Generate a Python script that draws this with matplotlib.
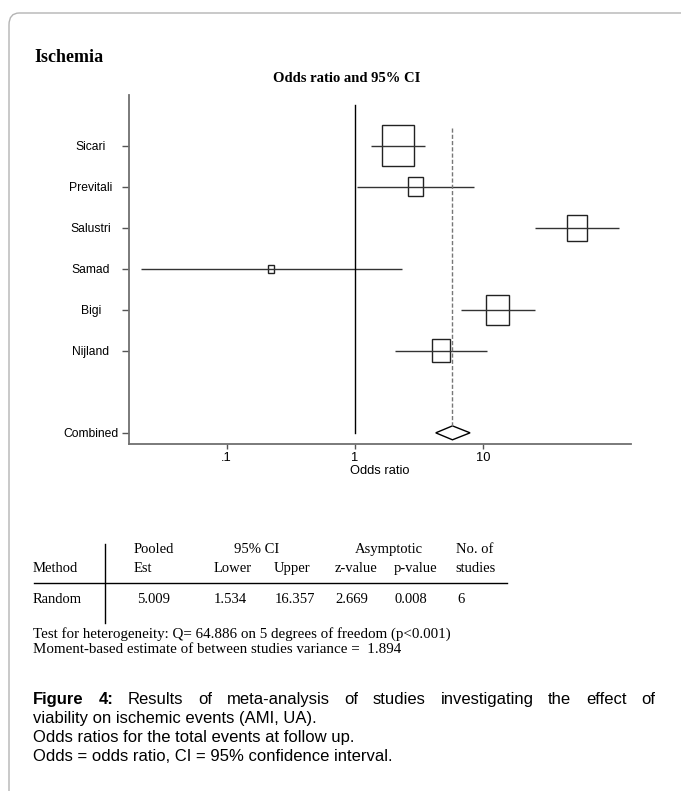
import numpy as np
from matplotlib import pyplot as plt
from matplotlib.patches import Rectangle, Polygon, FancyBboxPatch

plt.rcParams['font.family'] = ['Liberation Sans', 'DejaVu Sans']

studies = ["Sicari", "Previtali", "Salustri", "Samad", "Bigi", "Nijland"]
odds = [2.17, 2.97, 54.0, 0.222, 13.0, 4.72]
ci_low = [1.34, 1.04, 25.3, 0.0213, 6.76, 2.04]
ci_high = [3.55, 8.47, 115.0, 2.32, 25.4, 10.8]
weights = [1.0, 0.47, 0.63, 0.21, 0.73, 0.56]

combined_label = "Combined"
combined_or = 5.78
combined_low = 4.28
combined_high = 7.93

xticks = [0.1, 1, 10]
xticklabels = [".1", "1", "10"]

header1 = ["Pooled", "95% CI", "Asymptotic", "No. of"]
header2 = ["Method", "Est", "Lower", "Upper", "z-value", "p-value", "studies"]
row_random = ["Random", "5.009", "1.534", "16.357", "2.669", "0.008", "6"]
notes = ["Test for heterogeneity: Q= 64.886 on 5 degrees of freedom (p<0.001)",
         "Moment-based estimate of between studies variance =  1.894"]

W, H = 681, 791
fig = plt.figure(figsize=(W / 100, H / 100), dpi=100)


def fx(px):
    return px / W


def fy(py):
    return 1 - py / H


# page frame
frame = FancyBboxPatch((fx(9), fy(900)), fx(800), fy(13) - fy(900),
                       boxstyle="round,pad=0,rounding_size=0.015",
                       transform=fig.transFigure, facecolor="none",
                       edgecolor="#b4b4b4", lw=1, clip_on=False)
fig.patches.append(frame)

ax = fig.add_axes([fx(129), fy(443.5), fx(631) - fx(129), fy(95) - fy(443.5)])
ax.set_xscale("log")
ax.set_xlim(0.01727, 143)
ax.set_ylim(8.26, -0.24)

rows = np.arange(1, len(studies) + 1)
comb_row = len(studies) + 2

for r, o, lo, hi, w in zip(rows, odds, ci_low, ci_high, weights):
    ax.plot([lo, hi], [r, r], color="#333333", lw=1, solid_capstyle="butt")
    hw = 10 ** (0.124 * w)
    ax.add_patch(Rectangle((o / hw, r - w / 2), o * hw - o / hw, w,
                           facecolor="none", edgecolor="#222222", lw=1))

ax.plot([1, 1], [0, comb_row], color="black", lw=1)
ax.plot([combined_or, combined_or], [0.56, comb_row - 0.17],
        color="#777777", lw=1, linestyle=(0, (3, 1.5)))
ax.add_patch(Polygon([(combined_low, comb_row), (combined_or, comb_row - 0.17),
                      (combined_high, comb_row), (combined_or, comb_row + 0.17)],
                     closed=True, facecolor="none", edgecolor="black", lw=1))

ax.set_yticks(list(rows) + [comb_row])
ax.set_yticklabels(studies + [combined_label], fontsize=8.7, ha="center")
ax.tick_params(axis="y", direction="out", length=5, width=1, color="#555555", pad=22.5)
ax.set_xticks(xticks)
ax.set_xticklabels(xticklabels, fontsize=9.3)
ax.minorticks_off()
ax.tick_params(axis="x", direction="out", length=3.5, width=1, color="#555555", pad=2.5)
ax.set_xlabel("Odds ratio", fontsize=9.3, labelpad=1)

for s in ["top", "right"]:
    ax.spines[s].set_visible(False)
for s in ["left", "bottom"]:
    ax.spines[s].set_color("#707070")
    ax.spines[s].set_linewidth(1.3)

# titles
fig.text(fx(34), fy(57), "Ischemia", family="Liberation Serif",
         fontweight="bold", fontsize=13, va="center")
fig.text(fx(347), fy(79), "Odds ratio and 95% CI", family="Liberation Serif",
         fontweight="bold", fontsize=10.5, va="center", ha="center")

# table
serif = dict(family="Liberation Serif", fontsize=10.5, va="baseline")
for txt, x in zip(header1, [134, 234, 355, 456]):
    fig.text(fx(x), fy(553), txt, **serif)
for txt, x in zip(header2, [33, 134, 214, 274, 335, 394, 455]):
    fig.text(fx(x), fy(572), txt, **serif)
for txt, x in zip(row_random, [33, 137, 214, 275, 335, 395, 457]):
    fig.text(fx(x), fy(603), txt, **serif)
fig.add_artist(plt.Line2D([fx(34), fx(507)], [fy(583), fy(583)],
                          color="black", lw=1, transform=fig.transFigure))
fig.add_artist(plt.Line2D([fx(105), fx(105)], [fy(544), fy(623)],
                          color="black", lw=1, transform=fig.transFigure))
for txt, y in zip(notes, [638, 653]):
    fig.text(fx(33), fy(y), txt, family="Liberation Serif", fontsize=10.8, va="baseline")

# caption, first line justified
renderer = fig.canvas.get_renderer()
cap = dict(fontsize=12, va="baseline")
words = [("Figure", "bold"), ("4:", "bold")] + \
    [(w, "normal") for w in
     "Results of meta-analysis of studies investigating the effect of".split()]
arts = [fig.text(0, fy(704), w, fontweight=b, **cap) for w, b in words]
widths = [a.get_window_extent(renderer).width for a in arts]
gap = (655 - 33 - sum(widths)) / (len(words) - 1)
x = 33
for a, wd in zip(arts, widths):
    a.set_x(fx(x))
    x += wd + gap

caption = ["viability on ischemic events (AMI, UA).",
           "Odds ratios for the total events at follow up.",
           "Odds = odds ratio, CI = 95% confidence interval."]
for txt, y in zip(caption, [723, 742, 761]):
    fig.text(fx(33), fy(y), txt, **cap)

fig.savefig("out.png", dpi=100)
